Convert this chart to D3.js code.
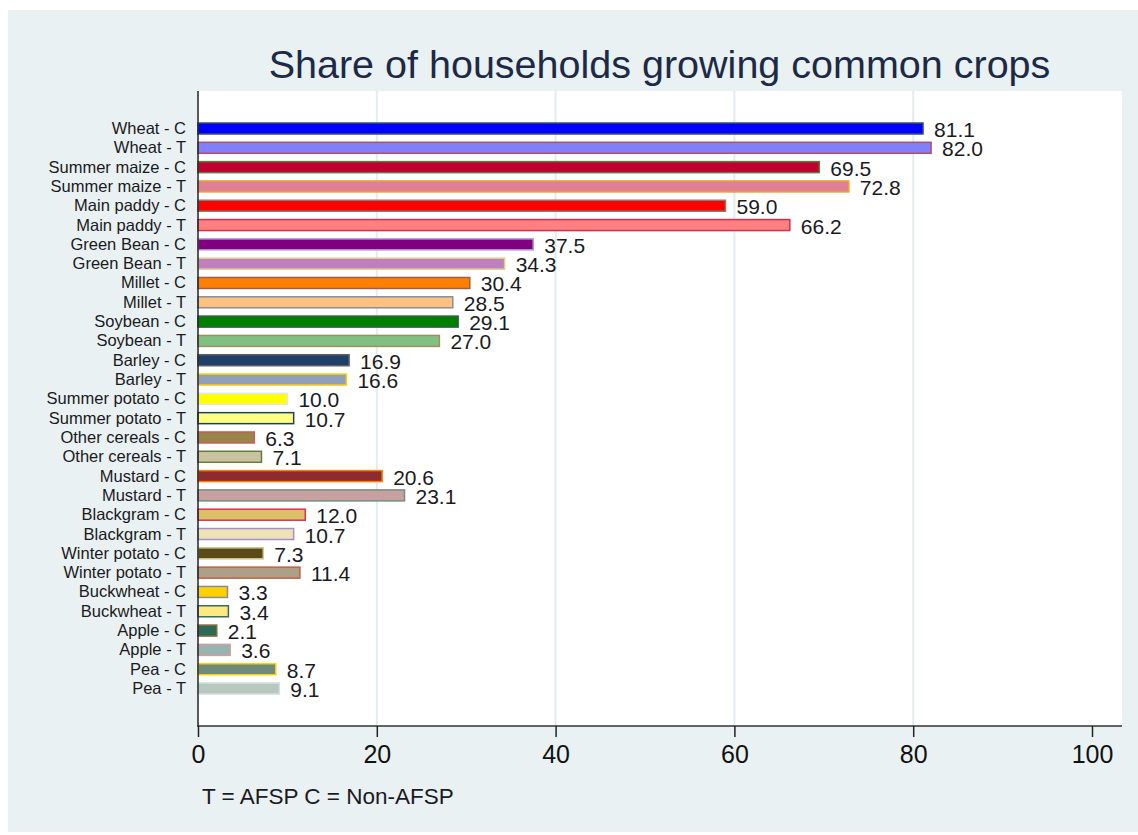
<!DOCTYPE html>
<html lang="en">
<head>
<meta charset="utf-8">
<title>Share of households growing common crops</title>
<script src="https://cdn.jsdelivr.net/npm/d3@7"></script>
<style>
  body { margin: 0; background: #fff; }
  text { font-family: "Liberation Sans", Arial, sans-serif; }
</style>
</head>
<body>
<script>
// chart data
const crops = ["Wheat", "Summer maize", "Main paddy", "Green Bean", "Millet", "Soybean", "Barley",
  "Summer potato", "Other cereals", "Mustard", "Blackgram", "Winter potato", "Buckwheat", "Apple", "Pea"];
const groups = ["C", "T"];
const valuesC = [81.1, 69.5, 59.0, 37.5, 30.4, 29.1, 16.9, 10.0, 6.3, 20.6, 12.0, 7.3, 3.3, 2.1, 8.7];
const valuesT = [82.0, 72.8, 66.2, 34.3, 28.5, 27.0, 16.6, 10.7, 7.1, 23.1, 10.7, 11.4, 3.4, 3.6, 9.1];
const xTicks = [0, 20, 40, 60, 80, 100];

// one fill / outline pair per bar, top to bottom
const fills = ["#0000ff", "#8080ff", "#c0002f", "#e08095", "#ff0000", "#ff8080", "#800080", "#c080c0",
  "#ff8000", "#ffc080", "#008000", "#80c080", "#1f4068", "#8fa0b8", "#ffff00", "#ffff80",
  "#9a8548", "#cdc2a0", "#8c2b30", "#c8a0a0", "#dcc068", "#ede3b4", "#5a4a18", "#aca088",
  "#ffd000", "#ffe880", "#306858", "#98b4b0", "#6e8a7c", "#b8c8c0"];
const strokes = ["#3a5068", "#b05060", "#5a7a40", "#f0a030", "#808070", "#d03050", "#b0a0d0", "#e0d090",
  "#a06040", "#8090a0", "#306040", "#a09060", "#606060", "#ffd000", "#e0e8e0", "#204060",
  "#c06060", "#608040", "#ff8000", "#709080", "#e03050", "#a090d0", "#d0c890", "#c06040",
  "#8090a0", "#307060", "#807040", "#d0a0a0", "#ffd000", "#d0e0d8"];

let rows = [];
crops.forEach((c, i) => {
  rows.push({label: c + " - C", value: valuesC[i]});
  rows.push({label: c + " - T", value: valuesT[i]});
});
rows.forEach((d, i) => { d.fill = fills[i]; d.stroke = strokes[i]; });

const W = 1138, H = 835;
const plot = {left: 197, right: 1122, top: 91, bottom: 726};

const svg = d3.select("body").append("svg")
  .attr("width", W).attr("height", H);

// outer background
svg.append("rect").attr("x", 8).attr("y", 10).attr("width", W - 8).attr("height", H - 13)
  .attr("fill", "#eaf1f2");
svg.append("rect").attr("x", plot.left).attr("y", plot.top)
  .attr("width", plot.right - plot.left).attr("height", plot.bottom - plot.top)
  .attr("fill", "#fff");

const x = d3.scaleLinear().domain([0, 100]).range([198, 1092]);
const y = d3.scalePoint().domain(rows.map(d => d.label)).range([128.5, 688.5]);
const barH = 11;

// grid lines
svg.selectAll("line.grid")
  .data(xTicks.filter(t => t > 0 && t < 100))
  .enter().append("line")
  .attr("class", "grid")
  .attr("x1", d => x(d)).attr("x2", d => x(d))
  .attr("y1", plot.top).attr("y2", plot.bottom)
  .attr("stroke", "#e3edef").attr("stroke-width", 2);

// bars
svg.selectAll("rect.bar")
  .data(rows)
  .enter().append("rect")
  .attr("class", "bar")
  .attr("x", x(0))
  .attr("y", d => y(d.label) - barH / 2)
  .attr("width", d => x(d.value) - x(0))
  .attr("height", barH)
  .attr("fill", d => d.fill)
  .attr("stroke", d => d.stroke)
  .attr("stroke-width", 1.5);

// value labels
svg.selectAll("text.val")
  .data(rows)
  .enter().append("text")
  .attr("class", "val")
  .attr("x", d => x(d.value) + 11)
  .attr("y", d => y(d.label) + 8.5)
  .attr("font-size", "21px")
  .attr("fill", "#1a1a22")
  .text(d => d.value.toFixed(1));

// category labels
svg.selectAll("text.cat")
  .data(rows)
  .enter().append("text")
  .attr("class", "cat")
  .attr("x", 186)
  .attr("y", d => y(d.label) + 5.5)
  .attr("text-anchor", "end")
  .attr("font-size", "16.5px")
  .attr("fill", "#1a1a22")
  .text(d => d.label);

// axes
svg.append("line")
  .attr("x1", x(0)).attr("x2", x(0))
  .attr("y1", plot.top).attr("y2", plot.bottom)
  .attr("stroke", "#222").attr("stroke-width", 1.5);

const xAxis = d3.axisBottom(x).tickValues(xTicks).tickSize(11).tickPadding(8)
  .tickFormat(d3.format("d"));
const gx = svg.append("g")
  .attr("transform", `translate(0,${plot.bottom})`)
  .call(xAxis);
gx.select(".domain").attr("d", `M${plot.left},0H${plot.right}`)
  .attr("stroke", "#333").attr("stroke-width", 1.5);
gx.selectAll(".tick line").attr("stroke", "#222").attr("stroke-width", 1.5);
gx.selectAll(".tick text")
  .attr("font-family", "Liberation Sans, Arial, sans-serif")
  .attr("font-size", "25px")
  .attr("fill", "#111");

// title
svg.append("text")
  .attr("x", (plot.left + plot.right) / 2)
  .attr("y", 78)
  .attr("text-anchor", "middle")
  .attr("font-size", "39.5px")
  .attr("fill", "#1c2a48")
  .text("Share of households growing common crops");

// note
svg.append("text")
  .attr("x", 202)
  .attr("y", 804)
  .attr("font-size", "22.5px")
  .attr("fill", "#1a1a22")
  .text("T = AFSP C = Non-AFSP");
</script>
</body>
</html>
